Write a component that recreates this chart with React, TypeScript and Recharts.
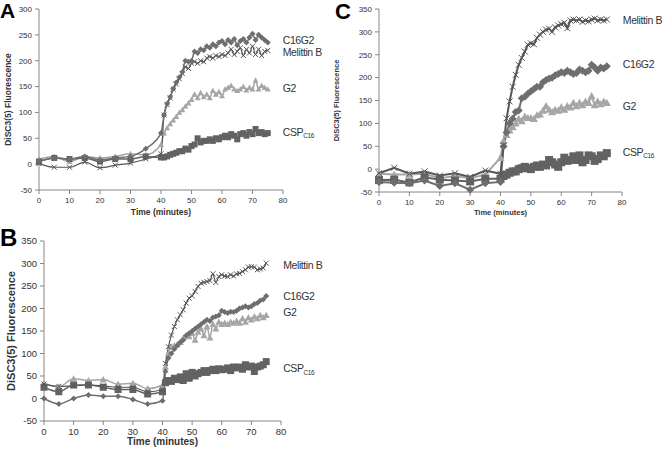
import React from "react";
import { LineChart, Line, XAxis, YAxis } from "recharts";

// sampling times (minutes): every 5 min until 40, then every minute
const times = [0, 5, 10, 15, 20, 25, 30, 35, 40, 41, 42, 43, 44, 45, 46, 47, 48, 49, 50, 51, 52, 53, 54, 55, 56, 57, 58, 59, 60, 61, 62, 63, 64, 65, 66, 67, 68, 69, 70, 71, 72, 73, 74, 75];
const xTicks = [0, 10, 20, 30, 40, 50, 60, 70, 80];
const yTicksA = [-50, 0, 50, 100, 150, 200, 250, 300];
const yTicksBC = [-50, 0, 50, 100, 150, 200, 250, 300, 350];

// Panel A
const aC16G2 = [5, 12, 10, 15, 8, 12, 15, 30, 60, 95, 117, 130, 146, 158, 168, 178, 200, 198, 200, 218, 215, 222, 220, 228, 225, 232, 228, 235, 238, 232, 240, 235, 242, 230, 238, 242, 235, 245, 252, 240, 250, 245, 240, 235];
const aMelittin = [1, -6, -6, 4, -7, -2, 2, 10, 20, 95, 115, 128, 145, 155, 165, 175, 188, 185, 195, 198, 195, 200, 198, 205, 208, 205, 210, 208, 212, 210, 215, 222, 212, 218, 225, 210, 222, 215, 228, 212, 222, 210, 218, 220];
const aG2 = [10, 15, 5, 15, 12, 15, 20, 18, 38, 60, 70, 78, 85, 92, 100, 105, 112, 118, 125, 135, 128, 138, 130, 135, 128, 142, 135, 140, 132, 145, 148, 152, 145, 142, 145, 150, 143, 148, 145, 162, 145, 152, 148, 145];
const aCSP = [5, 12, 10, 12, 5, 10, 10, 15, 13, 13, 15, 18, 20, 22, 25, 25, 30, 28, 35, 38, 50, 42, 45, 45, 48, 45, 50, 48, 52, 55, 52, 58, 55, 48, 58, 60, 55, 62, 58, 68, 60, 62, 58, 60];

// Panel B
const bC16G2 = [0, -12, 0, 8, 5, 5, -2, -12, -5, 60, 90, 100, 110, 118, 125, 130, 140, 145, 150, 155, 160, 165, 170, 175, 172, 180, 182, 185, 195, 192, 190, 193, 192, 195, 200, 202, 205, 202, 205, 210, 212, 218, 220, 228];
const bMelittin = [32, 27, 28, 30, 28, 25, 25, 15, 20, 78, 115, 141, 160, 175, 186, 197, 212, 223, 228, 238, 249, 256, 258, 260, 262, 277, 258, 271, 275, 272, 271, 275, 272, 277, 278, 282, 286, 292, 293, 292, 286, 288, 290, 301];
const bG2 = [34, 26, 44, 40, 42, 32, 34, 22, 30, 70, 100, 115, 118, 120, 125, 135, 140, 138, 145, 130, 148, 155, 140, 160, 135, 165, 155, 170, 165, 168, 165, 170, 168, 172, 168, 178, 170, 180, 175, 182, 178, 185, 180, 185];
const bCSP = [25, 15, 30, 30, 25, 20, 20, 10, 15, 35, 40, 38, 45, 42, 48, 40, 55, 45, 58, 50, 55, 58, 62, 58, 62, 65, 62, 66, 64, 65, 68, 62, 70, 68, 70, 65, 75, 70, 72, 60, 70, 72, 75, 82];

// Panel C
const cC16G2 = [-28, -30, -31, -25, -37, -31, -45, -31, -28, 50, 80, 100, 110, 125, 128, 155, 158, 165, 170, 175, 180, 180, 190, 195, 198, 200, 205, 208, 212, 210, 215, 212, 208, 210, 218, 215, 212, 215, 228, 222, 215, 222, 220, 225];
const cMelittin = [-9, 3, -10, -5, -14, -9, -17, -3, -10, 52, 111, 148, 180, 206, 228, 243, 257, 272, 275, 273, 287, 294, 300, 305, 307, 300, 310, 314, 317, 320, 308, 325, 327, 325, 327, 322, 325, 323, 327, 329, 325, 327, 325, 327];
const cG2 = [-10, -12, -12, -10, -20, -15, -20, -12, 25, 62, 75, 85, 92, 100, 110, 105, 115, 112, 112, 110, 118, 120, 128, 138, 130, 125, 130, 128, 135, 130, 138, 135, 145, 138, 145, 140, 148, 145, 160, 140, 148, 142, 148, 145];
const cCSP = [-24, -23, -29, -18, -23, -25, -27, -21, -21, -15, -12, -8, -5, -5, 0, 2, 5, 2, 0, 5, 8, 5, 10, 8, 20, 15, 10, 5, 15, 25, 18, 20, 28, 20, 30, 15, 20, 30, 28, 18, 22, 30, 28, 35];

const FONT = "'Liberation Sans', Arial, sans-serif";
const AXIS = "#868686";
const TEXT = "#333333";

type Shape = "diamond" | "square" | "triangle" | "cross";

function makeDot(shape: Shape, size: number, color: string) {
  return (p: any) => {
    const { cx, cy, index } = p;
    const k = `m-${index}`;
    if (cx == null || cy == null) return <g key={k} />;
    const h = size / 2;
    if (shape === "diamond")
      return <path key={k} d={`M${cx},${cy - h}L${cx + h},${cy}L${cx},${cy + h}L${cx - h},${cy}Z`} fill={color} />;
    if (shape === "square")
      return <rect key={k} x={cx - h} y={cy - h} width={size} height={size} fill={color} />;
    if (shape === "triangle")
      return <path key={k} d={`M${cx},${cy - h}L${cx + h},${cy + h * 0.8}L${cx - h},${cy + h * 0.8}Z`} fill={color} />;
    return (
      <path key={k} d={`M${cx - h},${cy - h}L${cx + h},${cy + h}M${cx + h},${cy - h}L${cx - h},${cy + h}`} stroke={color} strokeWidth={1} fill="none" />
    );
  };
}

function makeLabel(text: string, sub: string, dx: number, dy: number) {
  return (p: any) => {
    if (p.index !== times.length - 1) return null;
    return (
      <text key="lbl" x={p.x + dx} y={p.y + dy} dominantBaseline="middle" fontFamily={FONT} fontSize={10.5} letterSpacing={-0.4} fill={TEXT}>
        {text}
        {sub ? <tspan fontSize={6.5} dy={3}>{sub}</tspan> : null}
      </text>
    );
  };
}

type SeriesDef = {
  key: string;
  values: number[];
  name: string;
  sub: string;
  shape: Shape;
  size: number;
  color: string;
  width: number;
  labelDy: number;
};

type PanelDef = {
  letter: string;
  left: number;
  top: number;
  width: number;
  height: number;
  margin: { top: number; right: number; bottom: number; left: number };
  yWidth: number;
  xHeight: number;
  yTicks: number[];
  curve: "monotone" | "linear";
  tickFont: number;
  titleFont: number;
  yTitleFont: number;
  yTitleX: number;
  labelDx: number;
  letterTop: number;
  letterSize: number;
  series: SeriesDef[];
};

const panels: PanelDef[] = [
  {
    letter: "A", left: 0, top: 0, width: 335, height: 220,
    margin: { top: 9, right: 52, bottom: 0, left: 0 }, yWidth: 39, xHeight: 30,
    yTicks: yTicksA, curve: "monotone", tickFont: 8, titleFont: 8.5, yTitleFont: 8.5, yTitleX: 9, labelDx: 15,
    letterTop: 0, letterSize: 21,
    series: [
      { key: "g2", values: aG2, name: "G2", sub: "", shape: "triangle", size: 6, color: "#a6a6a6", width: 1.5, labelDy: 0 },
      { key: "csp", values: aCSP, name: "CSP", sub: "C16", shape: "square", size: 6, color: "#626262", width: 1.5, labelDy: 0 },
      { key: "mel", values: aMelittin, name: "Melittin B", sub: "", shape: "cross", size: 5, color: "#555555", width: 1.2, labelDy: 3 },
      { key: "c16", values: aC16G2, name: "C16G2", sub: "", shape: "diamond", size: 6, color: "#6e6e6e", width: 1.5, labelDy: -1 },
    ],
  },
  {
    letter: "C", left: 330, top: 0, width: 334, height: 220,
    margin: { top: 9, right: 42, bottom: 0, left: 0 }, yWidth: 49, xHeight: 28,
    yTicks: yTicksBC, curve: "linear", tickFont: 8, titleFont: 7.5, yTitleFont: 7.5, yTitleX: 7, labelDx: 16,
    letterTop: 1, letterSize: 22,
    series: [
      { key: "g2", values: cG2, name: "G2", sub: "", shape: "triangle", size: 8, color: "#a6a6a6", width: 2, labelDy: 4 },
      { key: "csp", values: cCSP, name: "CSP", sub: "C16", shape: "square", size: 8, color: "#626262", width: 2, labelDy: 0 },
      { key: "c16", values: cC16G2, name: "C16G2", sub: "", shape: "diamond", size: 8, color: "#6e6e6e", width: 2, labelDy: -1 },
      { key: "mel", values: cMelittin, name: "Melittin B", sub: "", shape: "cross", size: 6, color: "#555555", width: 2, labelDy: 2 },
    ],
  },
  {
    letter: "B", left: 0, top: 222, width: 335, height: 228,
    margin: { top: 19, right: 54, bottom: 0, left: 0 }, yWidth: 44, xHeight: 29,
    yTicks: yTicksBC, curve: "monotone", tickFont: 9.5, titleFont: 10, yTitleFont: 11, yTitleX: 12, labelDx: 17,
    letterTop: 4, letterSize: 24,
    series: [
      { key: "g2", values: bG2, name: "G2", sub: "", shape: "triangle", size: 7, color: "#a6a6a6", width: 1.5, labelDy: -2 },
      { key: "csp", values: bCSP, name: "CSP", sub: "C16", shape: "square", size: 7, color: "#626262", width: 1.5, labelDy: 8 },
      { key: "c16", values: bC16G2, name: "C16G2", sub: "", shape: "diamond", size: 6, color: "#6e6e6e", width: 1.5, labelDy: 1 },
      { key: "mel", values: bMelittin, name: "Melittin B", sub: "", shape: "cross", size: 5, color: "#555555", width: 1.2, labelDy: 3 },
    ],
  },
];

function Panel({ p }: { p: PanelDef }) {
  const rows = times.map((t, i) => {
    const r: Record<string, number> = { t };
    p.series.forEach((s) => (r[s.key] = s.values[i]));
    return r;
  });
  const plotBottom = p.height - p.xHeight;
  const plotMid = p.margin.top + (plotBottom - p.margin.top) / 2;
  return (
    <div style={{ position: "absolute", left: p.left, top: p.top }}>
      <LineChart width={p.width} height={p.height} data={rows} margin={p.margin}>
        <XAxis
          dataKey="t"
          type="number"
          domain={[0, 80]}
          ticks={xTicks}
          interval={0}
          height={p.xHeight}
          stroke={AXIS}
          tickSize={4}
          tickMargin={3}
          tick={{ fill: TEXT, fontSize: p.tickFont, fontFamily: FONT }}
          label={(lp: any) => {
            const vb = lp.viewBox || {};
            return (
              <text x={vb.x + vb.width / 2} y={vb.y + p.xHeight - 5} textAnchor="middle" fontFamily={FONT} fontWeight="bold" fontSize={p.titleFont} fill={TEXT}>
                Time (minutes)
              </text>
            );
          }}
        />
        <YAxis
          type="number"
          domain={[p.yTicks[0], p.yTicks[p.yTicks.length - 1]]}
          ticks={p.yTicks}
          interval={0}
          width={p.yWidth}
          stroke={AXIS}
          tickSize={4}
          tickMargin={3}
          tick={{ fill: TEXT, fontSize: p.tickFont, fontFamily: FONT }}
          label={() => (
            <text
              x={p.yTitleX}
              y={plotMid}
              transform={`rotate(-90 ${p.yTitleX} ${plotMid})`}
              textAnchor="middle"
              dominantBaseline="middle"
              fontFamily={FONT}
              fontWeight="bold"
              fontSize={p.yTitleFont}
              fill={TEXT}
            >
              DiSC3(5) Fluorescence
            </text>
          )}
        />
        {p.series.map((s) => (
          <Line
            key={s.key}
            dataKey={s.key}
            type={p.curve}
            stroke={s.color}
            strokeWidth={s.width}
            dot={makeDot(s.shape, s.size, s.color)}
            activeDot={false}
            isAnimationActive={false}
            label={makeLabel(s.name, s.sub, p.labelDx, s.labelDy)}
          />
        ))}
      </LineChart>
      <div
        style={{
          position: "absolute",
          left: p.letter === "C" ? 5 : 0,
          top: p.letterTop,
          lineHeight: 1,
          fontFamily: FONT,
          fontWeight: "bold",
          fontSize: p.letterSize,
          color: "#000",
        }}
      >
        {p.letter}
      </div>
    </div>
  );
}

export default function App() {
  return (
    <div style={{ position: "absolute", left: 0, top: 0, width: 664, height: 450, background: "#fff", overflow: "hidden" }}>
      {panels.map((p) => (
        <Panel key={p.letter} p={p} />
      ))}
    </div>
  );
}
